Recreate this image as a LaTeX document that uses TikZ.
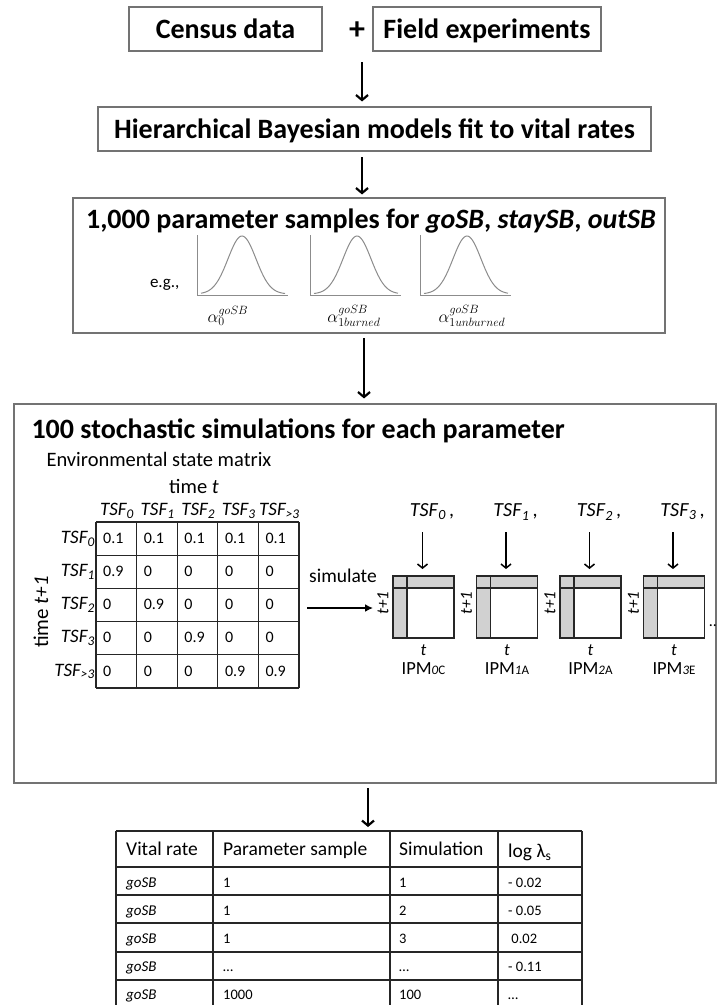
\documentclass[tikz,border=0pt]{standalone}
\usepackage{fontspec}
\setmainfont{Carlito}
\usetikzlibrary{arrows.meta}
\begin{document}
\begin{tikzpicture}[x=1pt,y=-1pt,
  box/.style={draw=black!55, line width=1.1pt, inner sep=0pt},
  ttl/.style={font=\fontsize{28}{32}\selectfont\bfseries},
  btl/.style={ttl, text height=25pt, text depth=6pt},
  flow/.style={line width=2.2pt, -{Straight Barb[length=5pt,width=12pt,line width=2.2pt]}},
  small/.style={line width=1.5pt, -{Straight Barb[length=4pt,width=10pt,line width=1.5pt]}},
  grid/.style={line width=1.1pt, black!85},
  cellt/.style={anchor=base west, inner sep=0pt, font=\fontsize{16}{18}\selectfont},
  hdr/.style={inner sep=0pt, font=\fontsize{19}{21}\selectfont\itshape},
  tab/.style={line width=1.2pt, black!85},
  th/.style={anchor=base west, inner sep=0pt, font=\fontsize{19.5}{21}\selectfont},
  tb/.style={anchor=base west, inner sep=0pt, font=\fontsize{14.5}{17}\selectfont},
  curve/.style={draw=black!45, line width=1pt},
  axis/.style={draw=black!45, line width=0.7pt}
]
\useasboundingbox (0,0) rectangle (720,1005);
\clip (0,0) rectangle (720,1005);

% top boxes
\node[box, btl, minimum width=193pt, minimum height=44pt] (census) at (225.5,29) {Census data};
\node[font=\fontsize{32}{32}\selectfont\bfseries] (plus) at (357,31) {+};
\node[box, btl, minimum width=228pt, minimum height=44pt] (field) at (487,29) {Field experiments};
\coordinate (a1) at (362,62);
\node[box, btl, minimum width=553pt, minimum height=44pt] (hier) at (374.5,129) {Hierarchical Bayesian models fit to vital rates};
\draw[flow, shorten >=5pt] (a1) -- (a1 |- hier.north);

% samples box
\node[box, minimum width=592pt, minimum height=135pt] (samples) at (369,265.5) {};
\coordinate (a2) at (362,157);
\draw[flow, shorten >=3pt] (a2) -- (a2 |- samples.north);
\node[ttl] (samplest) at (371,221) {1,000 parameter samples for \textit{goSB}, \textit{staySB}, \textit{outSB}};
\node[font=\fontsize{17}{19}\selectfont, anchor=east] (eg) at (183,285) {e.g.,};
\foreach \xo/\mu/\nm in {197/242/p1, 310/357/p2, 420/467/p3} {
  \draw[axis] (\xo,235) -- (\xo,295) -- (\xo+91,295);
  \draw[curve] plot[domain=\xo+4:\xo+88, samples=60, smooth] (\x, {294 - 58*exp(-((\x-\mu)*(\x-\mu))/(2*14*14))});
}
\node[font=\fontsize{18}{20}\selectfont] (al0) at (228,316) {$\alpha_0^{goSB}$};
\node[font=\fontsize{18}{20}\selectfont] (al1) at (354,316) {$\alpha_{1burned}^{goSB}$};
\node[font=\fontsize{18}{20}\selectfont] (al2) at (472,316) {$\alpha_{1unburned}^{goSB}$};

% simulation box
\node[box, minimum width=702pt, minimum height=379pt] (sim) at (365,593.5) {};
\coordinate (a3) at (364,338);
\draw[flow, shorten >=5pt] (a3) -- (a3 |- sim.north);
\node[ttl, anchor=west] (simt) at (28,431) {100 stochastic simulations for each parameter};
\node[font=\fontsize{20.5}{22}\selectfont, anchor=west] (env) at (43,459) {Environmental state matrix};

% matrix
\node[font=\fontsize{20.5}{22}\selectfont] (timet) at (194,486) {time \textit{t}};
\node[font=\fontsize{21}{23}\selectfont, rotate=90] (timet1) at (41,612) {time \textit{t+1}};
\foreach \c in {0,...,5} \draw[grid] (96+\c*40.6,522) -- (96+\c*40.6,688);
\foreach \r in {0,...,5} \draw[grid] (96,522+\r*33.2) -- (299,522+\r*33.2);
\foreach \lab [count=\i from 0] in {0,1,2,3,{>3}} {
  \node[hdr] (ch\i) at (117+\i*40.6,511) {TSF\textsubscript{\lab}};
  \node[hdr, anchor=east] (rh\i) at (95,538.6+\i*33.2) {TSF\textsubscript{\lab}};
}
\foreach \row [count=\r from 0] in {{0.1,0.1,0.1,0.1,0.1},{0.9,0,0,0,0},{0,0.9,0,0,0},{0,0,0.9,0,0},{0,0,0,0.9,0.9}} {
  \foreach \v [count=\c from 0] in \row {
    \node[cellt] (v\r\c) at (103+\c*40.6,543.2+\r*33.2) {\v};
  }
}

% simulate arrow
\node[font=\fontsize{19.5}{21}\selectfont] (simlab) at (343,576) {simulate};
\coordinate (s0) at (307,608);
\coordinate (s1) at (373,608);
\draw[line width=1.6pt, -{Latex[length=8pt,width=8pt]}] (s0) -- (s1);

% IPM matrices
\foreach \i/\lab in {0/0, 1/1, 2/2, 3/3} {
  \pgfmathsetmacro{\L}{393+83.5*\i}
  \fill[black!18] (\L,576) rectangle (\L+61,588);
  \fill[black!18] (\L,588) rectangle (\L+14,638);
  \draw[line width=1.1pt, black!85] (\L,576) rectangle (\L+61,638);
  \draw[line width=1.1pt, black!85] (\L,588) -- (\L+61,588);
  \draw[line width=1.1pt, black!85] (\L+14,576) -- (\L+14,638);
  \node[font=\fontsize{17}{19}\selectfont\itshape, rotate=90] (tp\i) at (\L-10,603) {t+1};
  \node[font=\fontsize{17}{19}\selectfont\itshape] (tt\i) at (\L+30.5,650) {t};
  \node[font=\fontsize{20}{22}\selectfont] (tsf\i) at (\L+39,512) {\textit{TSF}\textsubscript{\textit{\lab}}\hspace{3pt},};
  \coordinate (d\i) at (\L+29.5,532);
  \draw[small] (d\i) -- (\L+29.5,569);
}
\node[font=\fontsize{16}{18}\selectfont] (dots) at (713,626) {..};
\foreach \i/\n/\s in {0/0/C, 1/1/A, 2/2/A, 3/3/E}
  \node[font=\fontsize{18.5}{20}\selectfont] (ipm\i) at (423.5+83.5*\i,669) {IPM{\fontsize{13}{14}\selectfont\textit{\n}\s}};

% table
\coordinate (a4) at (368,788);
\coordinate (tabtop) at (368,831);
\draw[flow, shorten >=4pt] (a4) -- (tabtop);
\foreach \xx in {116,213,390,498,582} \draw[tab] (\xx,831) -- (\xx,1008);
\foreach \yy in {831,867,895,923,952,980,1008} \draw[tab] (116,\yy) -- (582,\yy);
\node[th] (h1) at (126,855.5) {Vital rate};
\node[th] (h2) at (223,855.5) {Parameter sample};
\node[th] (h3) at (399,855.5) {Simulation};
\node[th] (h4) at (508,857.5) {log λ\textsubscript{s}};
\foreach \a/\b/\c [count=\r from 0] in {1/1/- 0.02, 1/2/- 0.05, 1/3/\ 0.02, …/…/- 0.11, 1000/100/…} {
  \node[tb, font=\fontsize{15}{17}\selectfont\itshape] (g\r) at (126,887+\r*28.2) {goSB};
  \node[tb] (p\r) at (223,887+\r*28.2) {\a};
  \node[tb] (s\r) at (399,887+\r*28.2) {\b};
  \node[tb] (l\r) at (508,887+\r*28.2) {\c};
}
\end{tikzpicture}
\end{document}
